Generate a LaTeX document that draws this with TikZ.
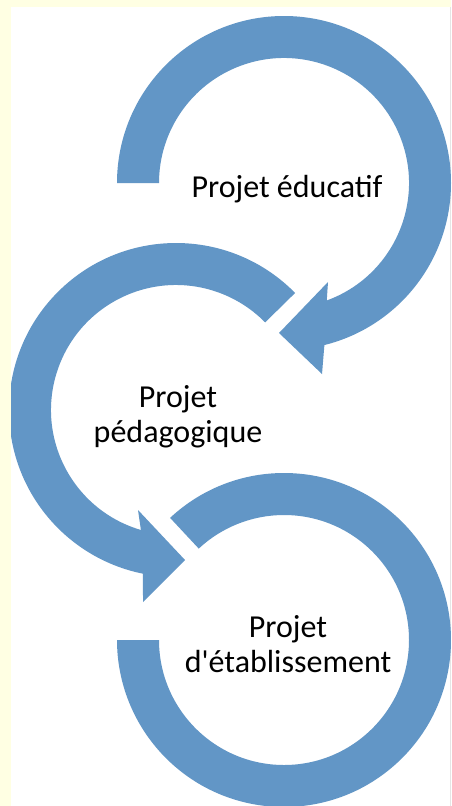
\documentclass[tikz,border=0pt]{standalone}
\usepackage{fontspec}
\setmainfont{Carlito}
\definecolor{arcblue}{HTML}{6296C6}
\definecolor{bgyellow}{HTML}{FFFFE3}
\begin{document}
\begin{tikzpicture}[x=1pt,y=1pt,
  band/.style={fill=arcblue},
  label/.style={align=center,font=\fontsize{32}{35}\selectfont,text=black,inner sep=0pt}]
\useasboundingbox (0,0) rectangle (451,-806);
\fill[bgyellow] (0,0) rectangle (451,-806);
\fill[white] (11,-7) rectangle (451,-806);
\draw[black!10,line width=1pt] (450.5,-7) -- (450.5,-806);
\begin{scope}
\clip (11,-7) rectangle (451,-806);
% arc 1 (top)
\fill[band,shift={(284,-183)}]
  (180:167pt) arc[start angle=180,end angle=-76,radius=167pt]
  -- (38,-191) -- (-5,-150) -- (44,-99)
  -- (-70:125pt) arc[start angle=-70,end angle=180,radius=125pt] -- cycle;
% arc 2 (middle)
\fill[band,shift={(176,-410)}]
  (44.5:167pt) arc[start angle=44.5,end angle=258.6,radius=167pt]
  -- (-33,-192) -- (9,-150) -- (-38,-100)
  -- (253.7:125pt) arc[start angle=253.7,end angle=44.5,radius=125pt] -- cycle;
% arc 3 (bottom)
\fill[band,shift={(284,-640)}]
  (133:167pt) arc[start angle=133,end angle=-180,radius=167pt]
  -- (-180:125pt) arc[start angle=-180,end angle=133,radius=125pt] -- cycle;
\end{scope}
\node[label,anchor=base] (t1) at (287,-197) {Projet éducatif};
\node[label,anchor=base] (t2) at (178,-442) {Projet\\pédagogique};
\node[label,anchor=base] (t3) at (288,-672) {Projet\\d\textquotesingle établissement};
\end{tikzpicture}
\end{document}
